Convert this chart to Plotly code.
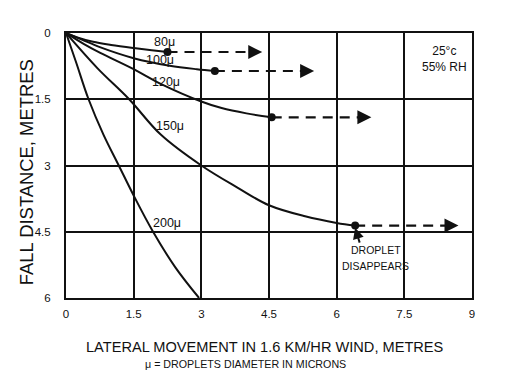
import plotly.graph_objects as go

# ---- data ----
x80 = [0, 0.25, 0.6, 1.0, 1.5, 1.9, 2.25]
y80 = [0, 0.10, 0.20, 0.27, 0.34, 0.39, 0.43]
x100 = [0, 0.35, 0.75, 1.5, 2.3, 2.9, 3.3]
y100 = [0, 0.15, 0.32, 0.57, 0.74, 0.82, 0.86]
x120 = [0, 0.4, 0.76, 1.5, 2.1, 3.0, 3.45, 4.0, 4.56]
y120 = [0, 0.25, 0.45, 0.82, 1.15, 1.55, 1.70, 1.82, 1.91]
x150 = [0, 0.7, 1.4, 2.1, 3.0, 3.8, 4.5, 5.3, 6.0, 6.41]
y150 = [0, 0.8, 1.5, 2.3, 3.0, 3.5, 3.9, 4.15, 4.3, 4.36]
x200 = [0, 0.22, 0.5, 0.83, 1.17, 1.5, 1.93, 2.42, 2.95]
y200 = [0, 0.65, 1.5, 2.3, 3.0, 3.68, 4.5, 5.3, 6.0]

# drift after evaporation: end x of dashed arrows
drift_end = {"80": 4.35, "100": 5.5, "120": 6.77, "150": 8.7}

size_labels = ["80μ", "100μ", "120μ", "150μ", "200μ"]
label_x = [2.19, 2.08, 2.22, 2.31, 2.24]
label_y = [0.2, 0.61, 1.11, 2.11, 4.3]

x_ticks = [0, 1.5, 3, 4.5, 6, 7.5, 9]
x_tick_text = ["0", "1.5", "3", "4.5", "6", "7.5", "9"]
y_ticks = [0, 1.5, 3, 4.5, 6]
y_tick_text = ["0", "1.5", "3", "4.5", "6"]

FONT = "Arial, Liberation Sans, Helvetica, sans-serif"
INK = "#111111"

fig = go.Figure()

curves = [(x80, y80, "80"), (x100, y100, "100"), (x120, y120, "120"),
          (x150, y150, "150"), (x200, y200, None)]
for xs, ys, key in curves:
    fig.add_trace(go.Scatter(x=xs, y=ys, mode="lines", line=dict(color=INK, width=2, shape="spline"),
                             hoverinfo="skip", showlegend=False))
    if key is not None:
        xe = drift_end[key]
        fig.add_trace(go.Scatter(x=[xs[-1]], y=[ys[-1]], mode="markers",
                                 marker=dict(color=INK, size=8), hoverinfo="skip", showlegend=False))
        fig.add_trace(go.Scatter(x=[xs[-1], xe - 0.25], y=[ys[-1], ys[-1]], mode="lines",
                                 line=dict(color=INK, width=2.2, dash="10px,7px"),
                                 hoverinfo="skip", showlegend=False))
        fig.add_annotation(x=xe, y=ys[-1], ax=xe - 0.3, ay=ys[-1], xref="x", yref="y",
                           axref="x", ayref="y", showarrow=True, arrowhead=2, arrowsize=1.4,
                           arrowwidth=2, arrowcolor=INK, text="")

for t, lx, ly in zip(size_labels, label_x, label_y):
    fig.add_annotation(x=lx, y=ly, text=t, showarrow=False,
                       font=dict(family=FONT, size=12.5, color=INK))

# droplet disappears callout
fig.add_annotation(x=x150[-1], y=y150[-1] + 0.05, ax=6.52, ay=4.78, xref="x", yref="y",
                   axref="x", ayref="y", showarrow=True, arrowhead=2, arrowsize=1.1,
                   arrowwidth=2, arrowcolor=INK, text="")
fig.add_annotation(x=6.87, y=4.91, text="DROPLET", showarrow=False,
                   font=dict(family=FONT, size=10.5, color=INK))
fig.add_annotation(x=6.87, y=5.28, text="DISAPPEARS", showarrow=False,
                   font=dict(family=FONT, size=10.5, color=INK))

fig.add_annotation(x=8.4, y=0.59, text="25°c<br>55% RH", showarrow=False, align="center",
                   font=dict(family=FONT, size=12, color=INK))

# titles
fig.add_annotation(x=0.49, y=-0.185, xref="paper", yref="paper", xanchor="center", yanchor="middle",
                   text="LATERAL MOVEMENT IN 1.6 KM/HR WIND, METRES", showarrow=False,
                   font=dict(family=FONT, size=14.6, color=INK))
fig.add_annotation(x=0.443, y=-0.249, xref="paper", yref="paper", xanchor="center", yanchor="middle",
                   text="μ = DROPLETS DIAMETER IN MICRONS", showarrow=False,
                   font=dict(family=FONT, size=10.7, color=INK))
fig.add_annotation(x=-0.0985, y=0.475, xref="paper", yref="paper", textangle=-90,
                   xanchor="center", yanchor="middle",
                   text="FALL DISTANCE, METRES", showarrow=False,
                   font=dict(family=FONT, size=18.4, color=INK))

fig.update_layout(
    width=510, height=368,
    margin=dict(l=58, r=46, t=25, b=78),
    paper_bgcolor="white", plot_bgcolor="white",
    showlegend=False,
    xaxis=dict(range=[0, 9], tickvals=x_ticks, ticktext=x_tick_text, showgrid=True,
               gridcolor=INK, gridwidth=1.5, showline=True, linecolor=INK, linewidth=2,
               mirror=True, zeroline=False, ticks="", ticklabelstandoff=4,
               tickfont=dict(family=FONT, size=11.5, color=INK)),
    yaxis=dict(range=[6, 0], tickvals=y_ticks, ticktext=y_tick_text, showgrid=True,
               gridcolor=INK, gridwidth=1.5, showline=True, linecolor=INK, linewidth=2,
               mirror=True, zeroline=False, ticks="", ticklabelstandoff=11,
               tickfont=dict(family=FONT, size=11.5, color=INK)),
)

fig.write_html("out.html")
